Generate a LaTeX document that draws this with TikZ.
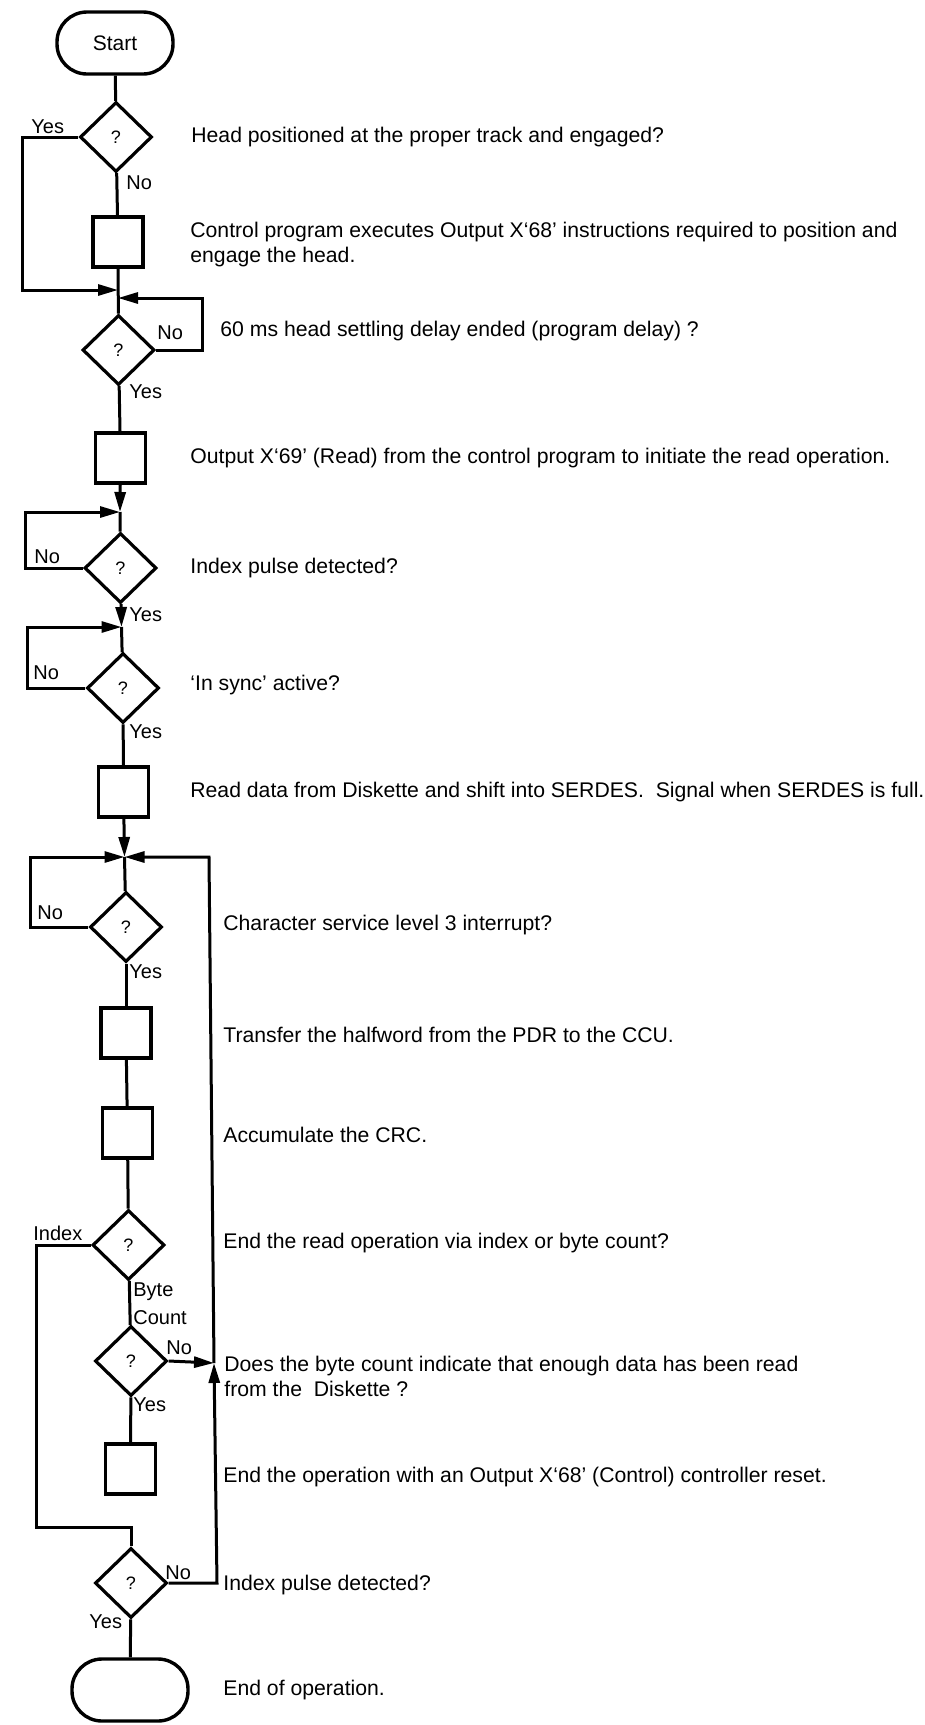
\documentclass[tikz,border=0pt]{standalone}
\usepackage{fontspec}
\setmainfont{Liberation Sans}
\usetikzlibrary{shapes.geometric,arrows.meta}

\tikzset{
  flow/.style={line width=1.5pt},
  arr/.style={flow,-{Triangle[length=10pt,width=5.5pt]}},
  decision/.style={draw,diamond,line width=1.6pt,minimum width=36pt,minimum height=35pt,
    inner sep=0pt,font=\fontsize{9}{10}\selectfont},
  process/.style={draw,rectangle,line width=1.7pt,minimum width=25pt,minimum height=25pt,inner sep=0pt},
  terminal/.style={draw,rectangle,rounded corners=15pt,line width=1.7pt,minimum width=58pt,
    minimum height=31pt,inner sep=0pt,font=\fontsize{10.5}{12}\selectfont},
  desc/.style={anchor=west,inner sep=0pt,font=\fontsize{10.6}{12.5}\selectfont,align=left},
  lbl/.style={anchor=west,inner sep=0pt,font=\fontsize{10}{11}\selectfont},
}

\begin{document}
\begin{tikzpicture}[x=0.5pt,y=-0.5pt]
\useasboundingbox (0,0) rectangle (925,1725);

% ---- main column of steps
\node[terminal] (start) at (115,43) {Start};
\node[decision] (d1) at (116,137) {?};
\node[process]  (b1) at (118,242) {};
\coordinate (m1) at (118,290);
\coordinate (m2) at (118,298);
\node[decision] (d2) at (118.5,350) {?};
\node[process]  (b2) at (120.5,458) {};
\coordinate (m3) at (120,512);
\node[decision] (d3) at (120.5,568) {?};
\coordinate (m4) at (121.5,627);
\node[decision] (d4) at (123,688) {?};
\node[process]  (b3) at (123.5,792) {};
\coordinate (m5) at (124.5,857);
\node[decision] (d5) at (126,927) {?};
\node[process]  (b4) at (126,1033) {};
\node[process]  (b5) at (127.5,1133) {};
\node[decision] (d6) at (128.5,1245) {?};
\node[decision] (d7) at (131,1361) {?};
\node[process]  (b6) at (130.5,1469) {};
\coordinate (m6) at (131,1527);
\node[decision] (d8) at (131,1583) {?};
\node[terminal] (stop) at (130,1690) {};

% ---- loop corners
\coordinate (l1) at (22,290);
\coordinate (r2) at (202,298);
\coordinate (l3) at (25,512);
\coordinate (l4) at (27,627);
\coordinate (l5) at (30,857);
\coordinate (l6) at (36,1527);
\coordinate (rt) at (209,857);
\coordinate (rj) at (214,1363);
\coordinate (rb) at (217,1583);

% ---- connectors
\draw[flow] (start) -- (d1);
\draw[flow] (d1) -- (b1);
\draw[flow] (b1) -- (d2);
\draw[arr] (d1.west) -| (l1) -- (m1);
\draw[arr] (d2.east) -| (r2) -- (m2);
\draw[flow] (d2) -- (b2);
\draw[arr] (b2) -- (m3);
\draw[flow] (m3) -- (d3);
\draw[arr] (d3.west) -| (l3) -- (m3);
\draw[arr] (d3) -- (m4);
\draw[flow] (m4) -- (d4);
\draw[arr] (d4.west) -| (l4) -- (m4);
\draw[flow] (d4) -- (b3);
\draw[arr] (b3) -- (m5);
\draw[flow] (m5) -- (d5);
\draw[arr] (d5.west) -| (l5) -- (m5);
\draw[flow] (d5) -- (b4);
\draw[flow] (b4) -- (b5);
\draw[flow] (b5) -- (d6);
\draw[flow] (d6) -- (d7);
\draw[flow] (d7) -- (b6);
\draw[flow] (d6.west) -| (l6) -- (m6) -- (d8);
\draw[arr] (d7.east) -- (rj);
\draw[arr] (d8.east) -- (rb) -- (rj);
\draw[arr] (rj) -- (rt) -- (m5);
\draw[flow] (d8) -- (stop);

% ---- branch labels
\node[lbl] (y1) at (31,127) {Yes};
\node[lbl] (n1) at (126,183) {No};
\node[lbl] (n2) at (157,333) {No};
\node[lbl] (y2) at (129,392) {Yes};
\node[lbl] (n3) at (34,557) {No};
\node[lbl] (y3) at (129,615) {Yes};
\node[lbl] (n4) at (33,673) {No};
\node[lbl] (y4) at (129,732) {Yes};
\node[lbl] (n5) at (37,913) {No};
\node[lbl] (y5) at (129,972) {Yes};
\node[lbl] (i6) at (33,1233) {Index};
\node[lbl] (c6a) at (133,1292) {Byte};
\node[lbl] (c6b) at (133,1318) {Count};
\node[lbl] (n7) at (166,1348) {No};
\node[lbl] (y7) at (133,1405) {Yes};
\node[lbl] (n8) at (165,1573) {No};
\node[lbl] (y8) at (89,1622) {Yes};

% ---- step descriptions
\node[desc] (t1) at (191,137) {Head positioned at the proper track and engaged?};
\node[desc] (t2) at (190,245) {Control program executes Output X‘68’ instructions required to position and\\engage the head.};
\node[desc] (t3) at (220,331) {60 ms head settling delay ended (program delay) ?};
\node[desc] (t4) at (190,458) {Output X‘69’ (Read) from the control program to initiate the read operation.};
\node[desc] (t5) at (190,568) {Index pulse detected?};
\node[desc] (t6) at (190,685) {‘In sync’ active?};
\node[desc] (t7) at (190,792) {Read data from Diskette and shift into SERDES.\ \ Signal when SERDES is full.};
\node[desc] (t8) at (223,925) {Character service level 3 interrupt?};
\node[desc] (t9) at (223,1035) {Transfer the halfword from the PDR to the CCU.};
\node[desc] (t10) at (223,1135) {Accumulate the CRC.};
\node[desc] (t11) at (223,1243) {End the read operation via index or byte count?};
\node[desc] (t12) at (224,1376) {Does the byte count indicate that enough data has been read\\from the\ \ Diskette ?};
\node[desc] (t13) at (223,1477) {End the operation with an Output X‘68’ (Control) controller reset.};
\node[desc] (t14) at (223,1585) {Index pulse detected?};
\node[desc] (t15) at (223,1690) {End of operation.};
\end{tikzpicture}
\end{document}
